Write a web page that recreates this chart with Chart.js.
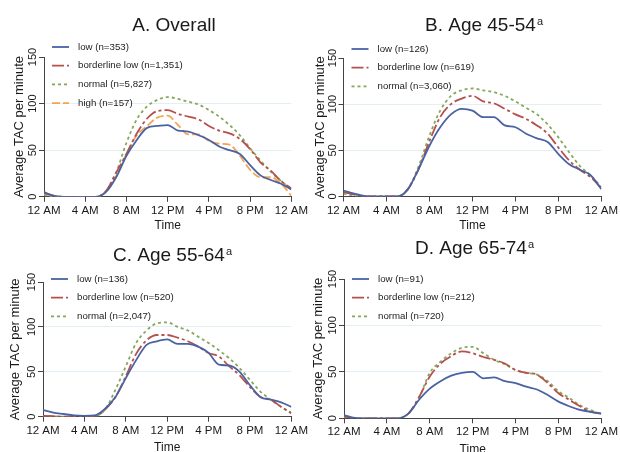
<!DOCTYPE html>
<html>
<head>
<meta charset="utf-8">
<script src="https://cdn.jsdelivr.net/npm/chart.js@4.4.1/dist/chart.umd.min.js"></script>
<style>
  html, body { margin: 0; padding: 0; background: #fff; overflow: hidden; }
  #wrap { position: relative; width: 620px; height: 452px; }
  canvas { position: absolute; }
</style>
</head>
<body>
<div id="wrap">
  <canvas id="panelA" width="310" height="240" style="left:0;top:0"></canvas>
  <canvas id="panelB" width="310" height="240" style="left:310px;top:0"></canvas>
  <canvas id="panelC" width="310" height="240" style="left:0;top:226px"></canvas>
  <canvas id="panelD" width="310" height="240" style="left:310px;top:226px"></canvas>
</div>
<script>
// ---- data (hourly averages) ----
const HOURS = [0, 1, 2, 3, 4, 5, 6, 7, 8, 9, 10, 11, 12, 13, 14, 15, 16, 17, 18, 19, 20, 21, 22, 23, 24];
const X_TICK_HOURS = [0, 4, 8, 12, 16, 20, 24];
const X_TICK_LABELS = ['12 AM', '4 AM', '8 AM', '12 PM', '4 PM', '8 PM', '12 AM'];
const Y_TICKS = [0, 50, 100, 150];

const A_LOW        = [4.5, 1, 0, 0, 0, 0, 5, 21, 44, 61, 74, 76, 77, 71, 70, 66, 61, 54, 50, 46, 34, 23, 18, 14, 8];
const A_BORDERLINE = [5, 1, 0, 0, 0, 0, 6, 26, 46, 68, 84, 92, 93, 89, 86, 83, 76, 71, 68, 62, 51, 37, 28, 17, 9];
const A_NORMAL     = [2, 0, 0, 0, 0, 0, 6, 26, 58, 83, 97, 104, 107, 105, 102, 99, 93, 86, 77, 66, 52, 39, 27, 17, 8];
const A_HIGH       = [3, 0.5, 0, 0, 0, 0, 5, 22, 46, 66, 76, 85, 87, 77, 67, 67, 60, 57, 56, 44, 29, 21, 21, 14, 1];
const A_LABELS = ['low (n=353)', 'borderline low (n=1,351)', 'normal (n=5,827)', 'high (n=157)'];

const B_LOW        = [6.5, 3, 0.5, 0, 0, 0, 8, 30, 55, 75, 89, 95, 93, 86, 86, 77, 75, 68, 63, 59, 46, 35, 29, 23, 8];
const B_BORDERLINE = [5, 2, 0, 0, 0, 0, 8, 30, 60, 86, 100, 106, 109, 103, 101, 95, 89, 84, 77, 68, 53, 39, 29, 21, 9];
const B_NORMAL     = [3, 1, 0, 0, 0, 0, 8, 33, 66, 93, 109, 115, 117, 115, 113, 109, 103, 96, 89, 78, 64, 48, 33, 23, 10];
const B_LABELS = ['low (n=126)', 'borderline low (n=619)', 'normal (n=3,060)'];

const C_LOW        = [7.5, 4.5, 3, 1.5, 1, 1.5, 9, 22, 43, 63, 80, 84, 86, 81, 81, 78, 71, 58, 57, 50, 35, 22, 19, 16, 11];
const C_BORDERLINE = [1, 0.5, 0, 0, 0, 0.5, 8, 22, 45, 70, 85, 91, 91, 88, 84, 78, 71, 67, 56, 46, 33, 22, 19, 11, 4];
const C_NORMAL     = [1, 0.5, 0, 0, 0, 0.5, 8, 30, 56, 82, 96, 104, 105, 100, 96, 89, 82, 74, 65, 54, 41, 28, 19, 11, 4];
const C_LABELS = ['low (n=136)', 'borderline low (n=520)', 'normal (n=2,047)'];

const D_LOW        = [3.5, 0.5, 0, 0, 0, 0, 5, 20, 32, 40, 46, 49, 50, 43, 44, 40, 38, 34, 31, 25, 18, 13, 9, 7, 5];
const D_BORDERLINE = [2, 0, 0, 0, 0, 0, 5, 23, 45, 59, 67, 72, 70, 66, 63, 59, 52, 49, 47, 38, 27, 20, 13, 7, 5];
const D_NORMAL     = [1, 0, 0, 0, 0, 0, 5, 22, 49, 61, 70, 76, 77, 70, 63, 58, 52, 49, 47, 40, 29, 22, 14, 9, 4];
const D_LABELS = ['low (n=91)', 'borderline low (n=212)', 'normal (n=720)'];

// ---- styling ----
const FONT = '"Liberation Sans", Arial, Helvetica, sans-serif';
const TEXT_COLOR = '#1a1a1a';
const AXIS_COLOR = '#444';
const GRID_COLOR = '#e3eff5';
const SERIES_STYLE = [
    { color: '#4a62a3', dash: [] },            // low
    { color: '#b5504d', dash: [12, 3, 3, 3] }, // borderline low
    { color: '#86a85c', dash: [3, 3] },        // normal
    { color: '#f2a552', dash: [8, 3] },        // high
];

Chart.defaults.font.family = FONT;
Chart.defaults.color = TEXT_COLOR;

// titles, rotated y tick labels and the in-plot legend
const panelDecor = {
    id: 'panelDecor',
    afterDraw(chart, args, opts) {
        const ctx = chart.ctx;
        const area = chart.chartArea;
        const yScale = chart.scales.y;
        ctx.save();

        // y tick labels, rotated like the original
        ctx.fillStyle = TEXT_COLOR;
        ctx.font = '11px ' + FONT;
        ctx.textAlign = 'center';
        ctx.textBaseline = 'middle';
        yScale.ticks.forEach(t => {
            ctx.save();
            ctx.translate(area.left - 11, yScale.getPixelForValue(t.value));
            ctx.rotate(-Math.PI / 2);
            ctx.fillText(String(t.value), 0, 0);
            ctx.restore();
        });

        // panel title with superscript
        ctx.font = '19px ' + FONT;
        const w1 = ctx.measureText(opts.title).width;
        ctx.font = '11px ' + FONT;
        const w2 = opts.sup ? ctx.measureText(opts.sup).width + 1 : 0;
        const x0 = opts.titleX - (w1 + w2) / 2;
        ctx.textAlign = 'left';
        ctx.textBaseline = 'alphabetic';
        ctx.font = '19px ' + FONT;
        ctx.fillText(opts.title, x0, opts.titleY + 7);
        if (opts.sup) {
            ctx.font = '11px ' + FONT;
            ctx.fillText(opts.sup, x0 + w1 + 1, opts.titleY + 1);
        }

        // legend
        ctx.textBaseline = 'middle';
        chart.data.datasets.forEach((ds, i) => {
            const y = opts.legendY + i * 18.7;
            const lx = area.left + 8;
            ctx.strokeStyle = ds.borderColor;
            ctx.lineWidth = 1.8;
            ctx.setLineDash(ds.borderDash || []);
            ctx.beginPath();
            ctx.moveTo(lx, y);
            ctx.lineTo(lx + 17, y);
            ctx.stroke();
            ctx.setLineDash([]);
            ctx.fillStyle = '#222';
            ctx.font = '9.7px ' + FONT;
            ctx.fillText(ds.label, area.left + 34, y);
        });
        ctx.restore();
    }
};

function makePanel(id, geo, series, labels) {
    const H = 240, W = 310;
    const datasets = series.map((values, i) => ({
        label: labels[i],
        data: values.map((v, j) => ({ x: HOURS[j], y: v })),
        borderColor: SERIES_STYLE[i].color,
        borderDash: SERIES_STYLE[i].dash,
        borderWidth: 1.8,
        pointRadius: 0,
        fill: false,
        cubicInterpolationMode: 'monotone',
    }));

    return new Chart(document.getElementById(id), {
        type: 'line',
        data: { datasets: datasets },
        options: {
            responsive: false,
            animation: false,
            layout: { padding: { left: 0, top: geo.T, right: W - geo.R, bottom: 0 } },
            scales: {
                x: {
                    type: 'linear',
                    min: 0,
                    max: 24,
                    afterBuildTicks: s => { s.ticks = X_TICK_HOURS.map(v => ({ value: v })); },
                    afterFit: s => { s.height = H - geo.B; },
                    ticks: {
                        callback: (v, i) => X_TICK_LABELS[i],
                        font: { size: 11.5 },
                        color: TEXT_COLOR,
                        padding: 2,
                        maxRotation: 0,
                        autoSkip: false,
                    },
                    grid: { drawOnChartArea: false, tickLength: 5, tickColor: AXIS_COLOR },
                    border: { color: AXIS_COLOR, width: 1 },
                    title: {
                        display: true,
                        text: 'Time',
                        font: { size: 12 },
                        color: TEXT_COLOR,
                        padding: { top: 0, bottom: H - geo.B - geo.timeOff - 7.2 },
                    },
                },
                y: {
                    min: 0,
                    max: 150,
                    afterBuildTicks: s => { s.ticks = Y_TICKS.map(v => ({ value: v })); },
                    afterFit: s => { s.width = geo.L; },
                    ticks: { display: false },
                    grid: {
                        color: c => (c.tick && (c.tick.value === 50 || c.tick.value === 100)) ? GRID_COLOR : 'rgba(0,0,0,0)',
                        tickLength: 5,
                        tickColor: AXIS_COLOR,
                    },
                    border: { color: AXIS_COLOR, width: 1 },
                    title: {
                        display: true,
                        text: 'Average TAC per minute',
                        font: { size: 13 },
                        color: TEXT_COLOR,
                        padding: { top: Math.max(0, geo.yTitleX - 7.8), bottom: 0 },
                    },
                },
            },
            plugins: {
                legend: { display: false },
                tooltip: { enabled: false },
                panelDecor: {
                    title: geo.title,
                    sup: geo.sup,
                    titleX: geo.titleX,
                    titleY: geo.titleY,
                    legendY: geo.legendY,
                },
            },
        },
        plugins: [panelDecor],
    });
}

makePanel('panelA',
    { L: 44, R: 294, T: 57, B: 196.8, timeOff: 29, yTitleX: 19, title: 'A. Overall', sup: '', titleX: 174, titleY: 24, legendY: 47 },
    [A_LOW, A_BORDERLINE, A_NORMAL, A_HIGH], A_LABELS);
makePanel('panelB',
    { L: 33.5, R: 291.8, T: 58, B: 196.5, timeOff: 29, yTitleX: 10, title: 'B. Age 45-54', sup: 'a', titleX: 174, titleY: 24, legendY: 49 },
    [B_LOW, B_BORDERLINE, B_NORMAL], B_LABELS);
makePanel('panelC',
    { L: 43, R: 292, T: 56, B: 190.7, timeOff: 31, yTitleX: 15, title: 'C. Age 55-64', sup: 'a', titleX: 172.5, titleY: 28, legendY: 53 },
    [C_LOW, C_BORDERLINE, C_NORMAL], C_LABELS);
makePanel('panelD',
    { L: 34, R: 292, T: 53, B: 192.3, timeOff: 31, yTitleX: 8, title: 'D. Age 65-74', sup: 'a', titleX: 164.5, titleY: 21, legendY: 53 },
    [D_LOW, D_BORDERLINE, D_NORMAL], D_LABELS);
</script>
</body>
</html>
